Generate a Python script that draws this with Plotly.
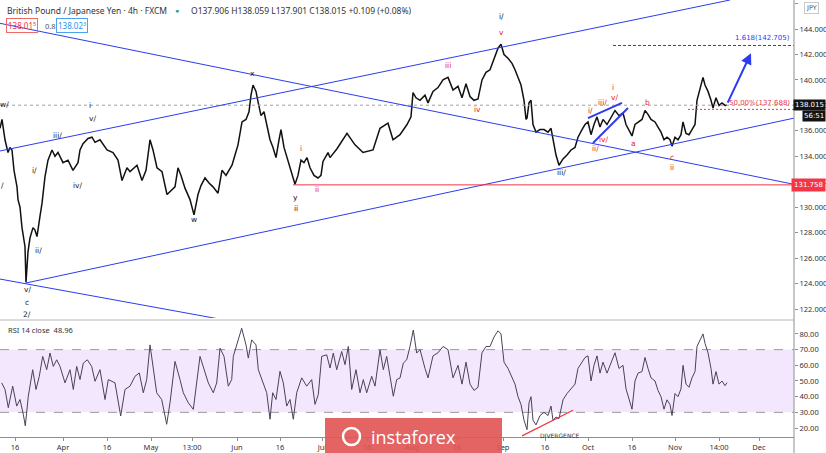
import plotly.graph_objects as go

# ---------------- DATA ----------------
# time axis in bar-position units (0..794 visible span)
price_x = [0, 2, 5, 8, 10, 12, 14, 17, 18, 20, 22, 23, 25, 26, 28, 30, 33, 35, 37, 40, 42, 45, 48, 52, 55, 58,
           63, 68, 73, 78, 80, 83, 88, 92, 95, 100, 107, 113, 118, 122, 127,
           130, 137, 142, 146, 150, 153, 157, 162, 167, 172, 175, 178, 181, 185, 190, 194, 198, 201, 205, 209,
           213, 218, 222, 226, 232, 235, 238, 242, 246, 249, 251, 253, 256, 258, 261, 264, 267, 270, 273, 276,
           279, 281, 284, 288, 291, 293, 295, 298, 301, 304, 307, 310, 314, 318, 321, 323, 326, 328,
           330, 337, 347, 355, 363, 373, 380, 388, 393, 400, 407, 411, 413, 416, 420, 425, 428, 433, 438, 443,
           448, 453, 458, 462, 466, 470, 474, 478, 482, 486, 490, 494, 498, 501, 504, 508, 512, 515, 518, 521,
           524, 526, 527, 529, 531, 533, 536, 540, 544, 548, 551, 553, 556, 559, 563, 567, 571, 575, 578, 582,
           585, 588, 591, 594, 597, 600, 603, 607, 611, 615, 619, 623, 626, 629, 632, 635, 638, 642, 645, 648,
           651, 655, 658, 661, 664, 667, 670, 672, 675, 678, 681, 683, 686, 689, 692, 695, 697, 700, 703, 705,
           708, 711, 713, 716, 719, 722, 725, 727]
price_close = [136.2, 136.9, 135.3, 134.3, 134.7, 134.5, 132.9, 131.6, 130.6, 130.0, 128.4, 128.0, 126.9, 124.1,
               126.5, 127.6, 128.4, 128.2, 127.7, 129.3, 130.3, 132.4, 133.7, 134.5, 134.0, 134.3,
               133.5, 133.7, 132.9, 133.5, 134.5, 135.0, 135.4, 135.5, 135.1, 135.3, 134.5, 134.3, 133.7, 132.1,
               133.1,
               132.8, 133.3, 132.1, 132.9, 135.3, 134.5, 133.1, 132.8, 131.0, 131.4, 131.6, 133.1, 132.5, 131.5,
               130.6, 129.4, 131.0, 131.7, 132.3, 131.9,
               131.6, 131.1, 132.9, 132.5, 133.3, 134.1, 134.9, 136.7, 136.9, 137.5, 138.8, 139.6, 139.1, 138.3,
               137.2, 137.5, 136.5, 135.3, 134.7, 133.9,
               135.3, 136.1, 134.7, 133.7, 132.9, 132.3, 131.8, 132.5, 133.7, 133.5, 133.9, 133.1, 132.5, 132.3,
               132.5, 133.6, 134.1, 134.3,
               133.9, 134.6, 135.8, 134.9, 134.3, 134.5, 136.2, 136.6, 135.3, 135.7, 136.5, 137.1, 139.0, 138.6,
               138.4, 138.8, 138.2, 139.1, 139.4, 140.0,
               140.2, 139.2, 139.5, 138.6, 139.7, 138.7, 138.4, 138.5, 140.0, 140.6, 140.8, 141.7, 142.5, 142.8,
               142.0, 141.7, 141.3, 140.8, 140.2, 139.6,
               138.4, 136.9, 137.0, 138.2, 138.4, 136.5, 135.9, 136.1, 136.1, 135.9, 136.2, 135.3, 134.1, 133.3,
               133.8, 134.1, 134.5, 134.7, 135.5, 136.1,
               136.5, 136.7, 135.7, 136.5, 137.1, 136.3, 136.9, 136.5, 137.0, 137.6, 137.2, 137.4, 136.5, 136.1,
               135.6, 136.5, 136.7, 136.9, 137.6, 137.3,
               136.9, 136.7, 136.3, 135.9, 135.3, 135.5, 135.3, 134.8, 135.5, 135.3, 135.7, 136.7, 135.8, 135.7,
               136.1, 136.5, 138.4, 139.4, 140.2, 139.6,
               139.1, 138.4, 137.8, 138.6, 138.0, 138.2, 138.0, 138.015]

rsi_x = [1.7, 5, 8.3, 12.7, 16.7, 20, 23.3, 25.3, 28.3, 32.7, 36, 39.3, 42.7, 46.7, 50, 53.3, 56.7, 60, 65, 70,
         73.3, 76.7, 80, 83.3, 87.3, 91.7, 95, 100, 105, 108.3, 115, 120.7, 125, 130, 135, 139.3, 143.3, 146.7,
         150, 153.3, 156.7, 161.7, 166.7, 170, 175, 180, 183.3, 188.3, 193.3, 200, 205, 208.3, 213.3, 216.7,
         220, 224, 228.3, 231.7, 233.3, 238.3, 241.7, 246, 248.3, 251.7, 256, 258.3, 263.3, 266.7, 270, 272.7,
         276, 280, 283.3, 286.7, 290, 293.3, 296.7, 301.7, 306.7, 311.7, 315, 318.3, 321.7, 326.7, 330, 333.3,
         336.7, 341.7, 345, 348.3, 351.7, 356, 360, 363.3, 366.7, 371.7, 375, 380, 383.3, 386.7, 390, 393.3,
         396.7, 400, 403.3, 406.7, 410, 413.3, 416.7, 420,
         425, 428, 433, 438, 443, 448, 453, 458, 462, 466, 470, 474, 478, 482, 486, 490, 494, 498, 501, 504,
         508, 512, 515, 518, 521, 524, 527, 529, 531, 533, 536, 540, 544, 548, 551, 553, 556, 559, 563, 567,
         571, 575, 578, 582, 585, 588, 591, 594, 597, 600, 603, 607, 611, 615, 619, 623, 626, 629, 632, 635,
         638, 642, 645, 648, 651, 655, 658, 661, 664, 667, 670, 672, 675, 678, 681, 683, 686, 689, 692, 695,
         697, 700, 703, 705, 708, 711, 713, 716, 719, 722, 725, 727]
rsi_val = [48.8, 44.6, 33.0, 46.7, 34.0, 38.2, 28.7, 21.4, 40.3, 57.2, 44.6, 53.0, 65.7, 57.2, 67.8, 59.3, 63.5,
           59.3, 48.8, 57.2, 44.6, 59.3, 50.9, 61.4, 63.5, 59.3, 49.8, 57.2, 38.2, 50.9, 48.8, 27.7, 44.6, 46.7,
           53.0, 55.1, 42.5, 50.9, 73.0, 59.3, 42.5, 38.2, 22.4, 36.1, 62.5, 50.9, 42.5, 36.1, 31.9, 65.7, 55.1,
           48.8, 42.5, 48.8, 70.9, 65.7, 46.7, 50.9, 65.7, 76.2, 83.6, 73.0, 64.6, 76.2, 73.0, 57.2, 48.8, 42.5,
           25.6, 42.5, 38.2, 56.2, 48.8, 34.0, 38.2, 25.6, 42.5, 52.0, 46.7, 50.9, 35.1, 41.4, 65.7, 66.7, 58.3,
           67.8, 57.2, 68.8, 60.4, 72.0, 44.6, 57.2, 42.5, 50.9, 42.5, 53.0, 46.7, 69.9, 57.2, 65.7, 53.0, 40.3,
           50.9, 51.9, 61.4, 63.5, 72.0, 82.5, 67.8, 70.0,
           58, 52, 66, 68, 72, 70, 52, 60, 48, 62, 48, 44, 46, 68, 72, 72, 78, 82, 80, 62,
           58, 52, 48, 40, 35, 25, 19, 36, 40, 25, 22, 28, 30, 28, 34, 25, 27, 26, 38, 42,
           45, 48, 58, 62, 65, 66, 50, 60, 66, 55, 62, 55, 62, 68, 58, 60, 45, 38, 32, 50,
           55, 56, 65, 58, 52, 50, 44, 40, 32, 38, 35, 28, 42, 40, 45, 60, 48, 46, 52, 56,
           72, 76, 80, 74, 68, 58, 48, 56, 48, 50, 47, 48.96]

price_ticks = [122, 124, 126, 128, 130, 132, 134, 136, 138, 140, 142, 144, 146]
rsi_ticks = [20, 30, 40, 50, 60, 70, 80]
time_tick_pos = [15, 63, 107, 151, 192, 237, 280, 322, 367, 412, 457, 503, 545, 588, 632, 675, 719, 759]
time_tick_text = ["16", "Apr", "16", "May", "13:00", "Jun", "16", "Jul", "16", "Aug", "16", "Sep", "16",
                  "Oct", "16", "Nov", "14:00", "Dec"]

last_price = 138.015
support_level = 131.758
fib_target = 142.705
fib_50 = 137.688

# wave labels: (time, price, text, colour-key)
wave_labels = [
    (4, 138.1, "w/", "k"), (2, 131.7, "/", "k"), (34, 132.9, "i/", "k"), (57, 135.6, "iii/", "k"),
    (38, 126.6, "ii/", "k"), (78, 131.7, "iv/", "k"), (90, 138.0, "i", "k"), (92, 137.0, "v/", "k"),
    (27, 123.5, "v/", "k"), (27, 122.5, "c", "k"), (27, 121.55, "2/", "k"),
    (252, 140.5, "x", "k"), (194, 129.0, "w", "k"), (295, 130.8, "y", "k"), (296, 129.9, "ii", "k"),
    (301, 134.65, "i", "r"), (317, 131.4, "ii", "r"),
    (501, 145.0, "i/", "k"), (501, 143.7, "v", "r"), (448, 141.1, "iii", "r"), (477, 137.7, "iv", "r"),
    (561, 132.7, "iii/", "k"), (613, 139.4, "i", "r"), (614, 138.6, "v/", "r"), (602, 138.2, "iii/", "r"),
    (590, 137.6, "i/", "r"), (604, 135.3, "iv/", "r"), (595, 134.6, "ii/", "r"), (633, 135.0, "a", "r"),
    (647, 138.2, "b", "r"), (672, 133.9, "c", "r"), (672, 133.1, "ii", "r"),
]

# ---------------- FIGURE ----------------
W, H = 826, 453
XR = 794 / W
BLUE = "#2b3cf0"
RED = "#f23645"


def pxx(x):
    return x / W


def pxy(y):
    return 1 - y / H


fig = go.Figure()
fig.add_trace(go.Scatter(x=price_x, y=price_close, mode="lines", xaxis="x2", yaxis="y",
                         line=dict(color="#111111", width=1.5), hoverinfo="skip", showlegend=False))
fig.add_trace(go.Scatter(x=rsi_x, y=rsi_val, mode="lines", xaxis="x", yaxis="y2",
                         line=dict(color="#4a4258", width=1), hoverinfo="skip", showlegend=False))

shapes = []
shapes.append(dict(type="rect", xref="x", yref="y2", x0=0, x1=794, y0=30, y1=70,
                   fillcolor="#f3e7fd", line=dict(width=0), layer="below"))
for lvl in (30, 70):
    shapes.append(dict(type="line", xref="x", yref="y2", x0=0, x1=794, y0=lvl, y1=lvl,
                       line=dict(color="#9b9b9b", width=1, dash="dash"), layer="below"))
shapes += [
    dict(type="line", xref="x2", yref="y", x0=0, x1=794, y0=last_price, y1=last_price,
         line=dict(color="#a0a0a0", width=1, dash="dot")),
    dict(type="line", xref="x2", yref="y", x0=0, y0=134.42, x1=730, y1=146.28, line=dict(color=BLUE, width=1)),
    dict(type="line", xref="x2", yref="y", x0=0, y0=144.45, x1=794, y1=131.8, line=dict(color=BLUE, width=1)),
    dict(type="line", xref="x2", yref="y", x0=26, y0=124.05, x1=794, y1=137.0, line=dict(color=BLUE, width=1)),
    dict(type="line", xref="x2", yref="y", x0=0, y0=124.36, x1=225, y1=121.14, line=dict(color=BLUE, width=1)),
    dict(type="line", xref="x2", yref="y", x0=293, y0=support_level, x1=794, y1=support_level,
         line=dict(color=RED, width=1)),
    dict(type="line", xref="x2", yref="y", x0=588, y0=137.0, x1=622, y1=138.2, line=dict(color=BLUE, width=2)),
    dict(type="line", xref="x2", yref="y", x0=593, y0=135.05, x1=628, y1=137.8, line=dict(color=BLUE, width=2)),
    dict(type="line", xref="x2", yref="y", x0=613, y0=fib_target, x1=794, y1=fib_target,
         line=dict(color=BLUE, width=1, dash="3px,2px")),
    dict(type="line", xref="x2", yref="y", x0=688, y0=fib_50, x1=794, y1=fib_50,
         line=dict(color=RED, width=1, dash="2px,2px")),
    dict(type="line", xref="x", yref="y2", x0=522, y0=15.0, x1=573, y1=31.4, line=dict(color=RED, width=1.2)),
    dict(type="line", xref="paper", yref="paper", x0=0, x1=XR, y0=pxy(320), y1=pxy(320),
         line=dict(color="#b8b8b8", width=1)),
    dict(type="line", xref="paper", yref="paper", x0=XR, x1=XR, y0=0, y1=1,
         line=dict(color="#8f8f8f", width=1)),
    dict(type="rect", xref="paper", yref="paper", x0=pxx(325), x1=pxx(502), y0=0, y1=pxy(418),
         fillcolor="rgba(226,86,86,0.92)", line=dict(width=0), layer="above"),
    dict(type="circle", xref="paper", yref="paper", x0=pxx(343), x1=pxx(360), y0=pxy(445), y1=pxy(428),
         line=dict(color="white", width=2.5), layer="above"),
]

ann = []
for (tx, ty, t, c) in wave_labels:
    ann.append(dict(x=tx, y=ty, xref="x2", yref="y", text=t, showarrow=False,
                    font=dict(size=7.5, color=("#ee2222" if c == "r" else "#222222"), family="DejaVu Sans")))
ann.append(dict(x=751, y=142.1, ax=727, ay=138.1, xref="x2", yref="y", axref="x2", ayref="y", text="",
                showarrow=True, arrowhead=2, arrowsize=1.1, arrowwidth=2, arrowcolor=BLUE))
ann.append(dict(x=792, y=fib_target + 0.15, xref="x2", yref="y", text="1.618(142.705)", showarrow=False,
                xanchor="right", yanchor="bottom", font=dict(size=7, color=BLUE, family="DejaVu Sans")))
ann.append(dict(x=792, y=fib_50 + 0.05, xref="x2", yref="y", text="50.00%(137.688)", showarrow=False,
                xanchor="right", yanchor="bottom", font=dict(size=7, color=RED, family="DejaVu Sans")))


def pann(x, y, text, **kw):
    d = dict(x=x, y=y, xref="paper", yref="paper", text=text, showarrow=False,
             xanchor="left", yanchor="middle")
    d.update(kw)
    ann.append(d)


# right-axis price boxes
ann.append(dict(x=1.0, y=last_price, xref="paper", yref="y", text="138.015", showarrow=False,
                xanchor="right", yanchor="middle", bgcolor="#131313", borderpad=1,
                font=dict(size=7, color="white", family="DejaVu Sans")))
ann.append(dict(x=1.0, y=137.13, xref="paper", yref="y", text="56:51", showarrow=False,
                xanchor="right", yanchor="middle", bgcolor="#131313", borderpad=1,
                font=dict(size=7, color="white", family="DejaVu Sans")))
ann.append(dict(x=1.0, y=support_level, xref="paper", yref="y", text="131.758", showarrow=False,
                xanchor="right", yanchor="middle", bgcolor=RED, borderpad=2,
                font=dict(size=7, color="white", family="DejaVu Sans")))
pann(pxx(811), pxy(8), "JPY", xanchor="center", bgcolor="white", bordercolor="#c9c9c9", borderwidth=1,
     borderpad=1, font=dict(size=6.5, color="#555", family="DejaVu Sans"))
# header
pann(pxx(5), pxy(10), "British Pound / Japanese Yen · 4h · FXCM",
     font=dict(size=8.5, color="#333", family="Noto Sans"))
pann(pxx(177), pxy(10), "●", xanchor="center", font=dict(size=7, color="#26a69a"))
pann(pxx(189), pxy(10), "O137.906 H138.059 L137.901 C138.015 +0.109 (+0.08%)",
     font=dict(size=8.5, color="#333", family="Noto Sans"))
pann(pxx(6), pxy(26), "138.01<sup>5</sup>", bordercolor="#f06a6a", borderwidth=1, borderpad=1,
     font=dict(size=8, color=RED, family="Noto Sans"))
pann(pxx(43), pxy(26), "0.8", font=dict(size=7.5, color="#555", family="Noto Sans"))
pann(pxx(56), pxy(26), "138.02<sup>3</sup>", bordercolor="#4aa3f0", borderwidth=1, borderpad=1,
     font=dict(size=8, color="#2196f3", family="Noto Sans"))
pann(pxx(6), pxy(330), "RSI 14 close  48.96", font=dict(size=7.5, color="#333", family="Noto Sans"))
ann.append(dict(x=560, y=15.5, xref="x", yref="y2", xanchor="center", yanchor="middle",
                text="DIVERGENCE", showarrow=False, font=dict(size=6, color="#333", family="DejaVu Sans")))
pann(pxx(413), pxy(437), "instaforex", xanchor="center",
     font=dict(size=18, color="white", family="Open Sans"))

fig.update_layout(
    width=W, height=H, margin=dict(l=0, r=0, t=0, b=0),
    paper_bgcolor="white", plot_bgcolor="white", showlegend=False,
    shapes=shapes, annotations=ann,
    xaxis=dict(domain=[0, XR], range=[0, 794], anchor="y2", tickmode="array",
               tickvals=time_tick_pos, ticktext=time_tick_text, ticks="outside", ticklen=3,
               tickcolor="#8f8f8f", showline=True, linecolor="#8f8f8f", showgrid=False, zeroline=False,
               tickfont=dict(size=7.5, color="#333", family="Noto Sans")),
    xaxis2=dict(domain=[0, XR], range=[0, 794], anchor="y", matches="x", showticklabels=False,
                showgrid=False, zeroline=False, showline=False, ticks=""),
    yaxis=dict(domain=[1 - 318 / H, 1], range=[121.30, 146.28], side="right", anchor="x2",
               tickmode="array", tickvals=price_ticks, tickformat=".3f", ticks="outside", ticklen=3,
               tickcolor="#8f8f8f", showgrid=False, zeroline=False,
               tickfont=dict(size=7.5, color="#333", family="Noto Sans")),
    yaxis2=dict(domain=[1 - 437 / H, 1 - 322 / H], range=[14.3, 87.6], side="right", anchor="x",
                tickmode="array", tickvals=rsi_ticks, tickformat=".2f", ticks="outside", ticklen=3,
                tickcolor="#8f8f8f", showgrid=False, zeroline=False,
                tickfont=dict(size=7.5, color="#333", family="Noto Sans")),
)

fig.write_html("out.html")
